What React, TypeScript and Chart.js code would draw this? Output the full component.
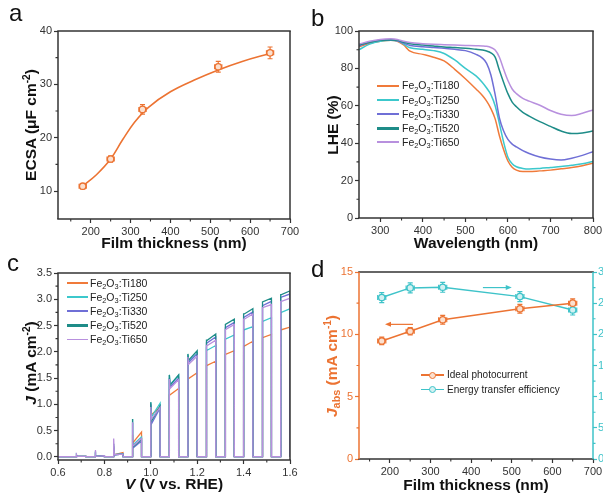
import React, { useEffect, useRef } from 'react';
import { Chart, registerables } from 'chart.js';
Chart.register(...registerables);

const SANS = 'Arial, "Liberation Sans", Helvetica, sans-serif';
const ORANGE = '#EC7332';
const CYAN = '#3EC3C9';
const FRAME = '#333333';
const LABEL = '#333333';

// ---------- Panel a : ECSA vs film thickness ----------
const thicknessA = [180, 250, 330, 520, 650];
const ecsaValues = [10.9, 16.0, 25.3, 33.3, 35.9];
const ecsaErr = [0.5, 0.6, 0.9, 1.0, 1.1];
const thicknessErrA = [9, 9, 9, 9, 9];
const ecsaFitX = [180, 215, 250, 280, 310, 345, 400, 460, 520, 580, 650];
const ecsaFitY = [10.9, 13.1, 16.0, 19.6, 22.9, 25.7, 28.6, 30.8, 32.7, 34.3, 35.8];
const thicknessTicks = [200, 300, 400, 500, 600, 700];
const thicknessMinor = [150, 250, 350, 450, 550, 650];
const ecsaTicks = [10, 20, 30, 40];
const ecsaMinor = [15, 25, 35];

// ---------- Panel b : LHE spectra ----------
const seriesNames = ['Ti180', 'Ti250', 'Ti330', 'Ti520', 'Ti650'];
const seriesColors = ['#F07A3A', '#3CC8CC', '#6F6FD6', '#1E8C88', '#B890DE'];
const wavelengths = [250, 275, 300, 325, 340, 355, 370, 400, 425, 450, 475, 500, 525, 540, 550, 560, 570, 580, 590, 600, 610, 620, 635, 650, 675, 700, 725, 750, 775, 800];
const lheTi180 = [91.5, 93.5, 94.5, 95, 94.5, 92.5, 89.2, 87.5, 86, 84, 79.5, 74.5, 69, 65.5, 62.5, 58.5, 53, 44, 36.5, 30.5, 27.2, 25.6, 24.8, 24.8, 25.2, 25.6, 26.3, 27, 28, 29.3];
const lheTi250 = [90, 93, 94.5, 95, 94.8, 93, 91, 90.2, 89.5, 88, 84.5, 80, 76, 72.5, 69.5, 66, 60, 50.5, 40.5, 32.5, 29, 27.4, 26.5, 26.2, 26.5, 27, 27.5, 28.2, 29, 30.2];
const lheTi330 = [92, 94, 95, 95.2, 94.8, 93.5, 92.3, 91.6, 91.2, 90.8, 90.2, 89.5, 87.5, 85.5, 82.7, 76.5, 66, 53.5, 46.5, 42, 39.5, 38, 36, 34.5, 32.6, 31.5, 31, 32, 33.5, 35.5];
const lheTi520 = [92.5, 94, 95, 95.2, 95, 94, 93.2, 92.5, 92, 91.5, 91.2, 90.8, 90.2, 89.8, 89.3, 88.3, 86, 79, 72.5, 66.5, 62, 59.5, 56.5, 54.5, 51.5, 49, 46.5, 45.2, 45.5, 46.5];
const lheTi650 = [93, 94.5, 95.5, 95.8, 95.5, 94.5, 93.8, 93.2, 92.9, 92.7, 92.5, 92.3, 92.1, 92, 91.8, 91.2, 89.8, 86, 79.5, 73.5, 69, 66.5, 64, 62.5, 60.3, 57.5, 55.5, 54.8, 56, 57.8];
const wlTicks = [300, 400, 500, 600, 700, 800];
const wlMinor = [350, 450, 550, 650, 750];
const lheTicks = [0, 20, 40, 60, 80, 100];
const lheMinor = [10, 30, 50, 70, 90];

// ---------- Panel c : chopped J-V ----------
const pulseOn = [0.68, 0.76, 0.84, 0.92, 1.0, 1.08, 1.16, 1.24, 1.32, 1.4, 1.48, 1.56];
const pulseWidth = 0.04;
const darkJ = 0.005;
const spikeTi180 = [0.02, 0.04, 0.08, 0.42, 0.84, 1.18, 1.49, 1.74, 1.95, 2.11, 2.27, 2.42];
const startTi180 = [0.01, 0.01, 0.04, 0.26, 0.8, 1.18, 1.49, 1.74, 1.95, 2.11, 2.27, 2.42];
const endTi180 = [0.01, 0.01, 0.08, 0.47, 0.95, 1.3, 1.6, 1.82, 2.02, 2.2, 2.33, 2.47];
const spikeTi250 = [0.03, 0.08, 0.1, 0.72, 1.04, 1.56, 1.95, 2.05, 2.24, 2.42, 2.58, 2.75];
const startTi250 = [0.01, 0.01, 0.04, 0.22, 0.76, 1.38, 1.8, 2.03, 2.24, 2.42, 2.58, 2.75];
const endTi250 = [0.01, 0.02, 0.06, 0.38, 1.02, 1.55, 1.97, 2.12, 2.32, 2.48, 2.65, 2.82];
const spikeTi330 = [0.03, 0.1, 0.2, 0.65, 1.0, 1.5, 1.9, 2.17, 2.46, 2.66, 2.88, 3.04];
const startTi330 = [0.01, 0.01, 0.04, 0.16, 0.63, 1.33, 1.8, 2.17, 2.46, 2.66, 2.88, 3.04];
const endTi330 = [0.01, 0.02, 0.05, 0.3, 0.93, 1.5, 1.96, 2.28, 2.56, 2.76, 2.96, 3.1];
const spikeTi520 = [0.03, 0.1, 0.25, 0.72, 1.04, 1.56, 1.96, 2.22, 2.52, 2.72, 2.95, 3.09];
const startTi520 = [0.01, 0.01, 0.04, 0.18, 0.68, 1.36, 1.84, 2.22, 2.52, 2.72, 2.95, 3.09];
const endTi520 = [0.01, 0.02, 0.05, 0.33, 0.97, 1.56, 2.02, 2.34, 2.62, 2.82, 3.02, 3.16];
const spikeTi650 = [0.04, 0.13, 0.35, 0.66, 0.95, 1.48, 1.9, 2.12, 2.42, 2.62, 2.84, 2.96];
const startTi650 = [0.01, 0.01, 0.04, 0.2, 0.72, 1.3, 1.76, 2.12, 2.42, 2.62, 2.84, 2.96];
const endTi650 = [0.01, 0.02, 0.05, 0.35, 0.94, 1.47, 1.92, 2.22, 2.52, 2.72, 2.9, 3.02];
const vTicks = [0.6, 0.8, 1.0, 1.2, 1.4, 1.6];
const vMinor = [0.7, 0.9, 1.1, 1.3, 1.5];
const jTicks = [0, 0.5, 1.0, 1.5, 2.0, 2.5, 3.0, 3.5];
const jMinor = [0.25, 0.75, 1.25, 1.75, 2.25, 2.75, 3.25];

// ---------- Panel d : Jabs & energy transfer efficiency ----------
const thicknessD = [180, 250, 330, 520, 650];
const jabsValues = [9.47, 10.25, 11.17, 12.05, 12.5];
const jabsErr = [0.3, 0.3, 0.35, 0.35, 0.35];
const eteValues = [25.9, 27.45, 27.55, 26.05, 23.9];
const eteErr = [0.8, 0.8, 0.8, 0.8, 0.8];
const thicknessErrD = [10, 10, 10, 10, 10];
const jabsTicks = [0, 5, 10, 15];
const jabsMinor = [2.5, 7.5, 12.5];
const eteTicks = [0, 5, 10, 15, 20, 25, 30];
const eteMinor = [2.5, 7.5, 12.5, 17.5, 22.5, 27.5];
const arrowJabs = { y: 10.8, from: 257, to: 188 };
const arrowEte = { y: 27.5, from: 429, to: 500 };

// ---------- helpers ----------
function axis(o: { pos: string; min: number; max: number; ticks: number[]; size: number; color?: string; labelColor?: string; fmt?: (v: number) => string; pad?: number }) {
  return {
    type: 'linear',
    position: o.pos,
    min: o.min,
    max: o.max,
    afterBuildTicks: (s: any) => {
      s.ticks = o.ticks.map((value) => ({ value }));
    },
    afterFit: (s: any) => {
      if (o.pos === 'bottom') s.height = o.size;
      else s.width = o.size;
      s.paddingLeft = 0;
      s.paddingRight = 0;
      s.paddingTop = 0;
      s.paddingBottom = 0;
    },
    grid: { display: true, drawOnChartArea: false, drawTicks: true, tickLength: 4, tickColor: o.color || FRAME, tickWidth: 1.2 },
    border: { display: false },
    ticks: {
      autoSkip: false,
      maxRotation: 0,
      minRotation: 0,
      padding: o.pad ?? 2,
      color: o.labelColor || LABEL,
      font: { family: SANS, size: 11 },
      callback: (v: any) => (o.fmt ? o.fmt(Number(v)) : String(v)),
    },
  };
}

const decoPlugin = {
  id: 'deco',
  beforeDatasetsDraw(chart: any, _a: any, opts: any) {
    const ctx = chart.ctx;
    (opts.errorBars || []).forEach((eb: any) => {
      const ds = chart.data.datasets[eb.dataset];
      const xs = chart.scales[eb.xAxis || 'x'];
      const ys = chart.scales[eb.yAxis || 'y'];
      const c = eb.cap || 2.5;
      ctx.save();
      ctx.strokeStyle = eb.color;
      ctx.lineWidth = 1.2;
      ds.data.forEach((p: any, i: number) => {
        const px = xs.getPixelForValue(p.x);
        const py = ys.getPixelForValue(p.y);
        ctx.beginPath();
        if (eb.yErr) {
          const y1 = ys.getPixelForValue(p.y - eb.yErr[i]);
          const y2 = ys.getPixelForValue(p.y + eb.yErr[i]);
          ctx.moveTo(px, y1); ctx.lineTo(px, y2);
          ctx.moveTo(px - c, y1); ctx.lineTo(px + c, y1);
          ctx.moveTo(px - c, y2); ctx.lineTo(px + c, y2);
        }
        if (eb.xErr) {
          const x1 = xs.getPixelForValue(p.x - eb.xErr[i]);
          const x2 = xs.getPixelForValue(p.x + eb.xErr[i]);
          ctx.moveTo(x1, py); ctx.lineTo(x2, py);
          ctx.moveTo(x1, py - c); ctx.lineTo(x1, py + c);
          ctx.moveTo(x2, py - c); ctx.lineTo(x2, py + c);
        }
        ctx.stroke();
      });
      ctx.restore();
    });
  },
  afterDraw(chart: any, _a: any, opts: any) {
    const ctx = chart.ctx;
    const { left, right, top, bottom } = chart.chartArea;
    ctx.save();
    (opts.arrows || []).forEach((a: any) => {
      const xs = chart.scales.x;
      const ys = chart.scales[a.yAxis || 'y'];
      const x1 = xs.getPixelForValue(a.from);
      const x2 = xs.getPixelForValue(a.to);
      const y = ys.getPixelForValue(a.y);
      const dir = Math.sign(x2 - x1);
      ctx.strokeStyle = a.color;
      ctx.fillStyle = a.color;
      ctx.lineWidth = 1.2;
      ctx.beginPath(); ctx.moveTo(x1, y); ctx.lineTo(x2 - dir * 4, y); ctx.stroke();
      ctx.beginPath(); ctx.moveTo(x2, y); ctx.lineTo(x2 - dir * 6, y - 2.5); ctx.lineTo(x2 - dir * 6, y + 2.5); ctx.closePath(); ctx.fill();
    });
    (opts.minor || []).forEach((m: any) => {
      const s = chart.scales[m.axis];
      ctx.strokeStyle = m.color || FRAME;
      ctx.lineWidth = 1.1;
      ctx.beginPath();
      m.values.forEach((v: number) => {
        const p = s.getPixelForValue(v);
        if (s.position === 'left') { ctx.moveTo(left, p); ctx.lineTo(left - 2.5, p); }
        else if (s.position === 'right') { ctx.moveTo(right, p); ctx.lineTo(right + 2.5, p); }
        else { ctx.moveTo(p, bottom); ctx.lineTo(p, bottom + 2.5); }
      });
      ctx.stroke();
    });
    const f = opts.frame;
    if (f) {
      const w = f.width || 1.5;
      ctx.lineWidth = w;
      const seg = (c: string, x1: number, y1: number, x2: number, y2: number) => {
        ctx.strokeStyle = c; ctx.beginPath(); ctx.moveTo(x1, y1); ctx.lineTo(x2, y2); ctx.stroke();
      };
      seg(f.top, left - w / 2, top, right + w / 2, top);
      seg(f.bottom, left - w / 2, bottom, right + w / 2, bottom);
      seg(f.left, left, top, left, bottom);
      seg(f.right, right, top, right, bottom);
    }
    ctx.restore();
  },
};

const fullFrame = { top: FRAME, bottom: FRAME, left: FRAME, right: FRAME, width: 1.5 };
const basePlugins = { legend: { display: false }, tooltip: { enabled: false } };

function makeA(): any {
  return {
    type: 'scatter',
    data: {
      datasets: [
        { data: ecsaFitX.map((x, i) => ({ x, y: ecsaFitY[i] })), showLine: true, borderColor: ORANGE, borderWidth: 1.6, pointRadius: 0, tension: 0.4, order: 2 },
        { data: thicknessA.map((x, i) => ({ x, y: ecsaValues[i] })), pointRadius: 3.2, borderColor: ORANGE, backgroundColor: '#fbe0cf', borderWidth: 1.3, order: 1 },
      ],
    },
    options: {
      animation: false, responsive: false, events: [],
      layout: { padding: { left: 0, top: 31, right: 10, bottom: 0 } },
      plugins: {
        ...basePlugins,
        deco: {
          frame: fullFrame,
          minor: [{ axis: 'x', values: thicknessMinor }, { axis: 'y', values: ecsaMinor }],
          errorBars: [{ dataset: 1, xErr: thicknessErrA, yErr: ecsaErr, color: ORANGE }],
        },
      },
      scales: {
        x: axis({ pos: 'bottom', min: 118, max: 700, ticks: thicknessTicks, size: 31 }),
        y: axis({ pos: 'left', min: 4.75, max: 40, ticks: ecsaTicks, size: 58 }),
      },
    },
    plugins: [decoPlugin],
  };
}

const lheSeries = [lheTi180, lheTi250, lheTi330, lheTi520, lheTi650];

function makeB(): any {
  return {
    type: 'line',
    data: {
      datasets: lheSeries.map((vals, k) => ({
        label: 'Fe2O3:' + seriesNames[k],
        data: wavelengths.map((x, i) => ({ x, y: vals[i] })),
        borderColor: seriesColors[k],
        borderWidth: 1.5,
        pointRadius: 0,
        cubicInterpolationMode: 'monotone',
        order: 5 - k,
      })),
    },
    options: {
      animation: false, responsive: false, events: [],
      layout: { padding: { left: 0, top: 31, right: 10, bottom: 0 } },
      plugins: {
        ...basePlugins,
        deco: { frame: fullFrame, minor: [{ axis: 'x', values: wlMinor }, { axis: 'y', values: lheMinor }] },
      },
      scales: {
        x: axis({ pos: 'bottom', min: 250, max: 800, ticks: wlTicks, size: 32 }),
        y: axis({ pos: 'left', min: 0, max: 100, ticks: lheTicks, size: 59 }),
      },
    },
    plugins: [decoPlugin],
  };
}

const chopSeries = [
  [spikeTi180, startTi180, endTi180],
  [spikeTi250, startTi250, endTi250],
  [spikeTi330, startTi330, endTi330],
  [spikeTi520, startTi520, endTi520],
  [spikeTi650, startTi650, endTi650],
];

function chopped(spike: number[], start: number[], end: number[]) {
  const pts: { x: number; y: number }[] = [{ x: 0.6, y: darkJ }];
  pulseOn.forEach((on, i) => {
    pts.push({ x: on, y: darkJ });
    pts.push({ x: on, y: spike[i] });
    pts.push({ x: on + 0.003, y: start[i] });
    pts.push({ x: on + pulseWidth, y: end[i] });
    pts.push({ x: on + pulseWidth, y: darkJ });
  });
  pts.push({ x: 1.6, y: darkJ });
  return pts;
}

function makeC(): any {
  return {
    type: 'line',
    data: {
      datasets: chopSeries.map((s, k) => ({
        label: 'Fe2O3:' + seriesNames[k],
        data: chopped(s[0], s[1], s[2]),
        borderColor: seriesColors[k],
        borderWidth: 1.3,
        pointRadius: 0,
        tension: 0,
        order: 5 - k,
      })),
    },
    options: {
      animation: false, responsive: false, events: [],
      layout: { padding: { left: 0, top: 23, right: 10, bottom: 0 } },
      plugins: {
        ...basePlugins,
        deco: { frame: fullFrame, minor: [{ axis: 'x', values: vMinor }, { axis: 'y', values: jMinor }] },
      },
      scales: {
        x: axis({ pos: 'bottom', min: 0.6, max: 1.6, ticks: vTicks, size: 34, fmt: (v) => v.toFixed(1) }),
        y: axis({ pos: 'left', min: -0.06, max: 3.5, ticks: jTicks, size: 58, fmt: (v) => v.toFixed(1) }),
      },
    },
    plugins: [decoPlugin],
  };
}

function makeD(): any {
  return {
    type: 'scatter',
    data: {
      datasets: [
        { label: 'Ideal photocurrent', data: thicknessD.map((x, i) => ({ x, y: jabsValues[i] })), showLine: true, yAxisID: 'y', borderColor: ORANGE, backgroundColor: '#fbe0cf', borderWidth: 1.5, pointRadius: 3.2, pointBorderWidth: 1.3 },
        { label: 'Energy transfer efficiency', data: thicknessD.map((x, i) => ({ x, y: eteValues[i] })), showLine: true, yAxisID: 'y2', borderColor: CYAN, backgroundColor: '#d3f1f2', borderWidth: 1.5, pointRadius: 3.2, pointBorderWidth: 1.3 },
      ],
    },
    options: {
      animation: false, responsive: false, events: [],
      layout: { padding: { left: 0, top: 22, right: 7, bottom: 0 } },
      plugins: {
        ...basePlugins,
        deco: {
          frame: { top: FRAME, bottom: FRAME, left: ORANGE, right: CYAN, width: 1.5 },
          minor: [
            { axis: 'x', values: thicknessMinor },
            { axis: 'y', values: jabsMinor, color: ORANGE },
            { axis: 'y2', values: eteMinor, color: CYAN },
          ],
          errorBars: [
            { dataset: 0, yAxis: 'y', xErr: thicknessErrD, yErr: jabsErr, color: ORANGE },
            { dataset: 1, yAxis: 'y2', xErr: thicknessErrD, yErr: eteErr, color: CYAN },
          ],
          arrows: [
            { ...arrowJabs, yAxis: 'y', color: ORANGE },
            { ...arrowEte, yAxis: 'y2', color: CYAN },
          ],
        },
      },
      scales: {
        x: axis({ pos: 'bottom', min: 124, max: 700, ticks: thicknessTicks, size: 35 }),
        y: axis({ pos: 'left', min: 0, max: 15, ticks: jabsTicks, size: 59, color: ORANGE, labelColor: ORANGE }),
        y2: axis({ pos: 'right', min: 0, max: 30, ticks: eteTicks, size: 20, color: CYAN, labelColor: CYAN, pad: 1 }),
      },
    },
    plugins: [decoPlugin],
  };
}

function ChartBox({ left, top, width, height, make }: { left: number; top: number; width: number; height: number; make: () => any }) {
  const ref = useRef<HTMLCanvasElement>(null);
  useEffect(() => {
    const chart = new Chart(ref.current as HTMLCanvasElement, make());
    return () => chart.destroy();
  }, []);
  return <canvas ref={ref} width={width} height={height} style={{ position: 'absolute', left, top, width, height, display: 'block' }} />;
}

const SUB: React.CSSProperties = { fontSize: '0.7em', verticalAlign: 'baseline', position: 'relative', top: '0.3em' };
const SUP: React.CSSProperties = { fontSize: '0.65em', verticalAlign: 'baseline', position: 'relative', top: '-0.55em' };

function HTitle({ cx, baseline, size = 15.5, color = '#111', children }: any) {
  return (
    <div style={{ position: 'absolute', left: cx, top: baseline - 0.8465 * size, transform: 'translateX(-50%)', whiteSpace: 'nowrap', font: `bold ${size}px ${SANS}`, lineHeight: `${size}px`, color }}>
      {children}
    </div>
  );
}

function VTitle({ cx, cy, size = 15.5, color = '#111', children }: any) {
  return (
    <div style={{ position: 'absolute', left: cx, top: cy, transform: 'translate(-50%,-50%) rotate(-90deg)', whiteSpace: 'nowrap', font: `bold ${size}px ${SANS}`, lineHeight: `${size}px`, color }}>
      {children}
    </div>
  );
}

function Letter({ x, baseline, ch }: any) {
  const size = 24;
  return <div style={{ position: 'absolute', left: x, top: baseline - 0.8465 * size, font: `${size}px ${SANS}`, lineHeight: `${size}px`, color: '#111' }}>{ch}</div>;
}

function LegRow({ x, cy, color, lw, len, gap, size, marker, children }: any) {
  return (
    <>
      <div style={{ position: 'absolute', left: x, top: cy - lw / 2, width: len, height: lw, background: color }} />
      {marker && (
        <div style={{ position: 'absolute', left: x + len / 2 - 3.5, top: cy - 3.5, width: 7, height: 7, boxSizing: 'border-box', border: `1.3px solid ${color}`, borderRadius: '50%', background: marker }} />
      )}
      <div style={{ position: 'absolute', left: x + len + gap, top: cy - size * 0.6, font: `${size}px ${SANS}`, lineHeight: `${size * 1.2}px`, color: '#222', whiteSpace: 'nowrap' }}>
        {children}
      </div>
    </>
  );
}

const feLabel = (name: string) => (
  <>Fe<span style={SUB}>2</span>O<span style={SUB}>3</span>:{name}</>
);

const legendWidthsB = [1.8, 1.8, 1.5, 2.8, 1.8];
const legendWidthsC = [1.8, 1.8, 2.2, 2.8, 1.6];

export default function App() {
  return (
    <div style={{ position: 'absolute', left: 0, top: 0, width: 603, height: 494, overflow: 'hidden', background: '#fff', fontFamily: SANS }}>
      <ChartBox left={0} top={0} width={300} height={250} make={makeA} />
      <ChartBox left={300} top={0} width={303} height={250} make={makeB} />
      <ChartBox left={0} top={250} width={300} height={244} make={makeC} />
      <ChartBox left={300} top={250} width={320} height={244} make={makeD} />

      <Letter x={9} baseline={21} ch="a" />
      <Letter x={311} baseline={26} ch="b" />
      <Letter x={7} baseline={271} ch="c" />
      <Letter x={311} baseline={277} ch="d" />

      <VTitle cx={32} cy={125}>ECSA (μF cm<span style={SUP}>-2</span>)</VTitle>
      <HTitle cx={174} baseline={248.5}>Film thickness (nm)</HTitle>

      <VTitle cx={333} cy={124.5}>LHE (%)</VTitle>
      <HTitle cx={476} baseline={248.5}>Wavelength (nm)</HTitle>

      <VTitle cx={32} cy={363}><i>J</i> (mA cm<span style={SUP}>-2</span>)</VTitle>
      <HTitle cx={174} baseline={489}><i>V</i> (V vs. RHE)</HTitle>

      <VTitle cx={333} cy={365.5} color={ORANGE}><i>J</i><span style={SUB}>abs</span> (mA cm<span style={SUP}>-1</span>)</VTitle>
      <HTitle cx={476} baseline={490}>Film thickness (nm)</HTitle>

      {seriesNames.map((n, k) => (
        <LegRow key={'b' + n} x={377} cy={85.7 + k * 14.15} color={seriesColors[k]} lw={legendWidthsB[k]} len={22} gap={3} size={10.5}>
          {feLabel(n)}
        </LegRow>
      ))}
      {seriesNames.map((n, k) => (
        <LegRow key={'c' + n} x={67} cy={283.3 + k * 14} color={seriesColors[k]} lw={legendWidthsC[k]} len={21} gap={2} size={10.5}>
          {feLabel(n)}
        </LegRow>
      ))}
      <LegRow x={421} cy={375} color={ORANGE} lw={1.5} len={23} gap={3} size={10} marker="#fbe0cf">Ideal photocurrent</LegRow>
      <LegRow x={421} cy={389.5} color={CYAN} lw={1.5} len={23} gap={3} size={10} marker="#d3f1f2">Energy transfer efficiency</LegRow>
    </div>
  );
}
